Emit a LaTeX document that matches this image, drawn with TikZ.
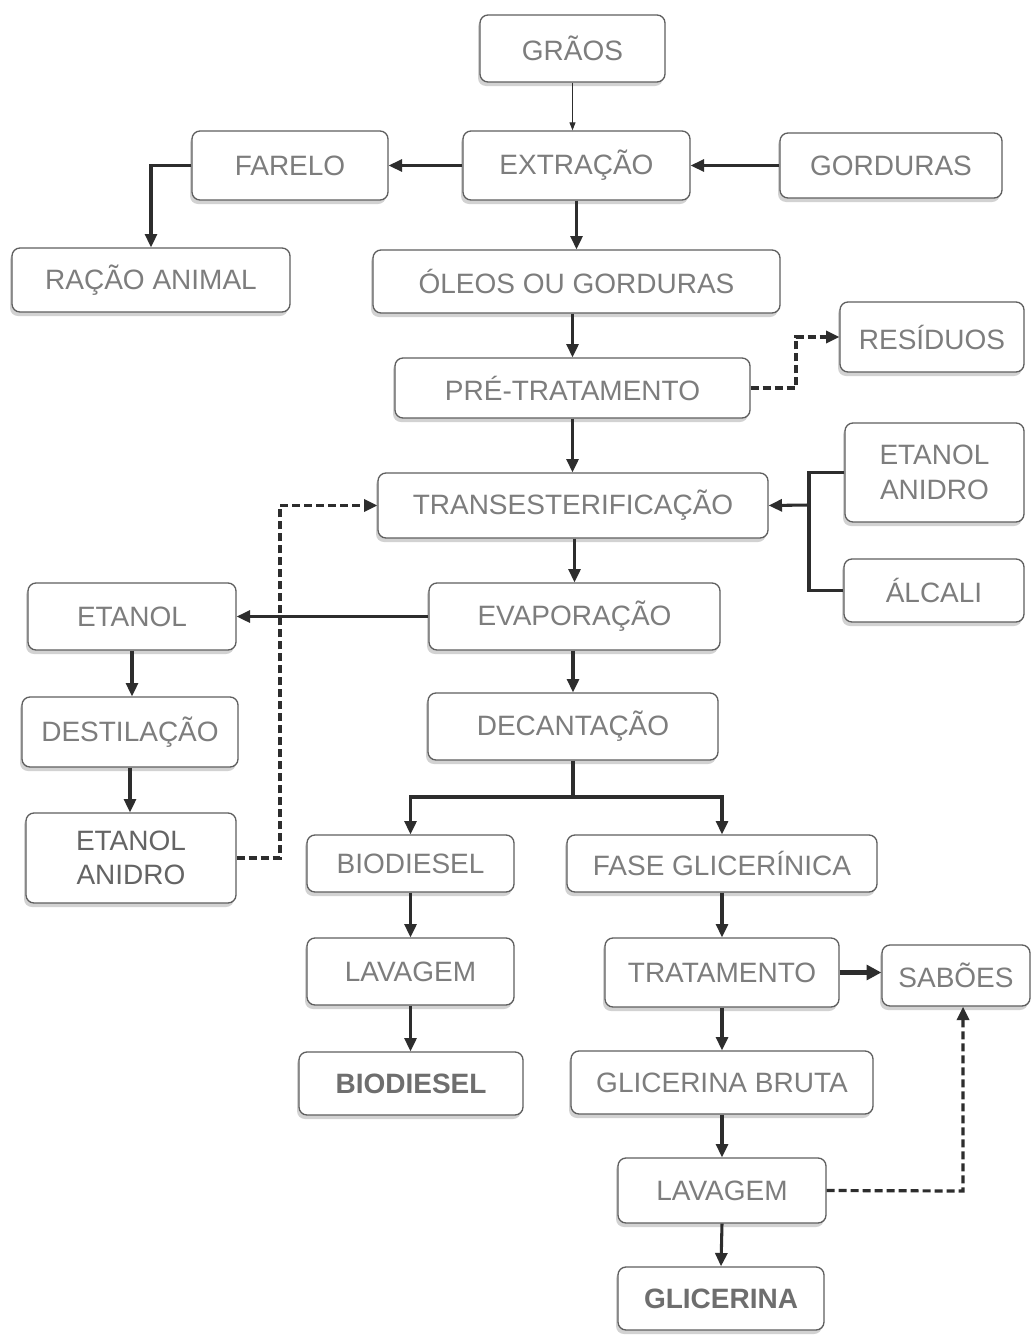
\documentclass[tikz,border=0pt]{standalone}
\usepackage{fontspec}
\setmainfont{Liberation Sans}
\usetikzlibrary{arrows.meta,shadows,fit}
\definecolor{txt}{RGB}{125,125,125}
\definecolor{edge}{RGB}{95,95,95}
\definecolor{lnc}{RGB}{45,45,45}
\begin{document}
\begin{tikzpicture}[x=0.75pt,y=-0.75pt,
  box/.style={draw=edge, line width=1pt, rounded corners=6pt, fill=white,
    inner sep=0pt,
    drop shadow={shadow xshift=-1.5pt, shadow yshift=-3pt, opacity=0.35, fill=gray}},
  lbl/.style={text=txt, align=center, inner sep=0pt,
    font=\fontsize{21}{26}\selectfont},
  lblb/.style={lbl, font=\fontsize{21}{26}\selectfont\bfseries, text={rgb,255:red,110;green,110;blue,110}},
  arr/.style={draw=lnc, line width=2.3pt, -{Triangle[length=10pt,width=9pt]}},
  thin/.style={draw=lnc, line width=0.7pt, -{Triangle[length=6pt,width=4.5pt]}},
  dsh/.style={draw=lnc, line width=2.4pt, dash pattern=on 6pt off 3pt, -{Triangle[length=10pt,width=9pt]}},
  lnn/.style={draw=lnc, line width=2.3pt}]
\useasboundingbox[fill=white] (0,0) rectangle (1032,1335);

\node[box, fit={(480,15) (665,82)}, label={[lbl]center:GRÃOS}] (grao) {};
\node[box, fit={(463,131) (690,200)}, label={[lbl]center:EXTRAÇÃO}] (extr) {};
\node[box, fit={(192,131) (388,200)}, label={[lbl]center:FARELO}] (far) {};
\node[box, fit={(780,133) (1002,198)}, label={[lbl]center:GORDURAS}] (gord) {};
\node[box, fit={(12,248) (290,312)}, label={[lbl]center:RAÇÃO ANIMAL}] (racao) {};
\node[box, fit={(373,250) (780,313)}, label={[lbl]center:ÓLEOS OU GORDURAS}] (oleos) {};
\node[box, fit={(840,302) (1024,372)}, label={[lbl]center:RESÍDUOS}] (resid) {};
\node[box, fit={(395,358) (750,418)}, label={[lbl]center:PRÉ-TRATAMENTO}] (pre) {};
\node[box, fit={(378,473) (768,538)}, label={[lbl]center:TRANSESTERIFICAÇÃO}] (trans) {};
\node[box, fit={(845,423) (1024,522)}, label={[lbl]center:ETANOL\\ANIDRO}] (etaR) {};
\node[box, fit={(844,559) (1024,622)}, label={[lbl]center:ÁLCALI}] (alc) {};
\node[box, fit={(429,583) (720,650)}, label={[lbl]center:EVAPORAÇÃO}] (evap) {};
\node[box, fit={(28,583) (236,650)}, label={[lbl]center:ETANOL}] (etaL) {};
\node[box, fit={(22,697) (238,767)}, label={[lbl]center:DESTILAÇÃO}] (dest) {};
\node[box, fit={(26,813) (236,903)}, label={[lbl, text={rgb,255:red,100;green,100;blue,100}]center:ETANOL\\ANIDRO}] (etaAL) {};
\node[box, fit={(428,693) (718,760)}, label={[lbl]center:DECANTAÇÃO}] (decant) {};
\node[box, fit={(307,835) (514,892)}, label={[lbl]center:BIODIESEL}] (bio1) {};
\node[box, fit={(567,835) (877,892)}, label={[lbl]center:FASE GLICERÍNICA}] (fase) {};
\node[box, fit={(307,938) (514,1005)}, label={[lbl]center:LAVAGEM}] (lav1) {};
\node[box, fit={(605,938) (839,1007)}, label={[lbl]center:TRATAMENTO}] (trat) {};
\node[box, fit={(882,945) (1030,1006)}, label={[lbl]center:SABÕES}] (sab) {};
\node[box, fit={(299,1052) (523,1115)}, label={[lblb]center:BIODIESEL}] (bio2) {};
\node[box, fit={(571,1051) (873,1114)}, label={[lbl]center:GLICERINA BRUTA}] (glicB) {};
\node[box, fit={(618,1158) (826,1223)}, label={[lbl]center:LAVAGEM}] (lav2) {};
\node[box, fit={(618,1267) (824,1330)}, label={[lblb]center:GLICERINA}] (glic) {};

\coordinate (jR) at (809,505);
\coordinate (jP) at (796,388);
\coordinate (jD) at (280,858);
\coordinate (jS) at (573,797);
\coordinate (jL) at (963,1191);

\draw[thin] (grao.south) -- (extr.north -| grao.south);
\draw[arr] (extr.west) -- (far.east);
\draw[arr] (gord.west) -- (extr.east);
\draw[arr] (far.west) -| (racao.north);
\draw[arr] (extr.south) -- (oleos.north -| extr.south);
\draw[arr] (oleos.south -| pre.north) -- (pre.north);
\draw[dsh] (pre.east) -- (jP) |- (resid.west);
\draw[arr] (pre.south) -- (trans.north -| pre.south);
\draw[lnn] (etaR.west) -| (jR);
\draw[lnn] (alc.west) -| (jR);
\draw[arr] (jR) -- (trans.east);
\draw[arr] (trans.south -| evap.north) -- (evap.north);
\draw[arr] (evap.west) -- (etaL.east);
\draw[arr] (etaL.south) -- (dest.north -| etaL.south);
\draw[arr] (dest.south) -- (etaAL.north -| dest.south);
\draw[dsh] (etaAL.east) -- (jD) |- (trans.west);
\draw[arr] (evap.south -| decant.north) -- (decant.north);
\draw[lnn] (decant.south) -- (jS);
\draw[arr] (jS) -| (bio1.north);
\draw[arr] (jS) -| (fase.north);
\draw[arr] (bio1.south) -- (lav1.north);
\draw[arr] (lav1.south) -- (bio2.north -| lav1.south);
\draw[arr] (fase.south) -- (trat.north);
\draw[draw=lnc, line width=3.5pt, -{Triangle[length=11pt,width=11pt]}] (trat.east) -- (sab.west |- trat.east);
\draw[arr] (trat.south) -- (glicB.north);
\draw[arr] (glicB.south) -- (lav2.north);
\draw[arr] (lav2.south) -- (glic.north);
\draw[dsh] (lav2.east) -- (jL) -- (jL |- sab.south);
\end{tikzpicture}
\end{document}
